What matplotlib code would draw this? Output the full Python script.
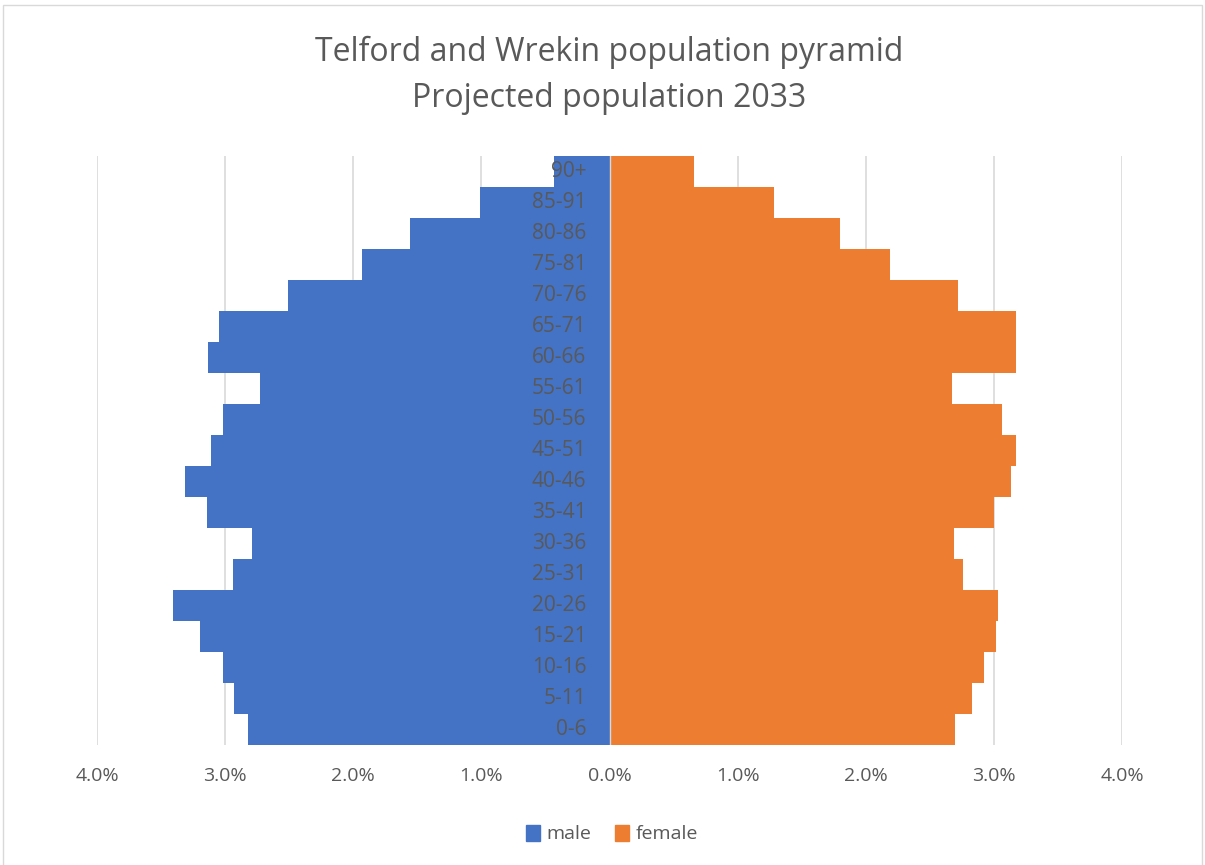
import matplotlib.pyplot as plt
from matplotlib.patches import Patch, Rectangle
from matplotlib.ticker import FuncFormatter
import matplotlib.transforms as mtransforms

plt.rcParams['font.family'] = ['Open Sans', 'DejaVu Sans']

# age bands, bottom to top
ages = ['0-6', '5-11', '10-16', '15-21', '20-26', '25-31', '30-36', '35-41', '40-46',
        '45-51', '50-56', '55-61', '60-66', '65-71', '70-76', '75-81', '80-86', '85-91', '90+']

# share of population (%)
male = [2.82, 2.93, 3.02, 3.20, 3.41, 2.94, 2.79, 3.14, 3.31,
        3.11, 3.02, 2.73, 3.13, 3.05, 2.51, 1.93, 1.56, 1.01, 0.43]
female = [2.70, 2.83, 2.92, 3.02, 3.03, 2.76, 2.69, 3.00, 3.13,
          3.17, 3.06, 2.67, 3.17, 3.17, 2.72, 2.19, 1.80, 1.28, 0.66]

blue = '#4472C4'
orange = '#ED7D31'
txt = '#595959'
grid = '#D9D9D9'

fig = plt.figure(figsize=(12.05, 8.65), dpi=100)
ax = fig.add_axes([97 / 1205, 120 / 865, 1025 / 1205, 589.3 / 865])

pos = list(range(len(ages)))
ax.barh(pos, [-v for v in male], height=1.0, color=blue, linewidth=0, zorder=2)
ax.barh(pos, female, height=1.0, color=orange, linewidth=0, zorder=2)

ax.set_xlim(-4, 4)
ax.set_ylim(-0.5, len(ages) - 0.5)
ax.set_xticks(range(-4, 5))
ax.xaxis.set_major_formatter(FuncFormatter(lambda v, p: f'{abs(v):.1f}%'))
ax.grid(axis='x', color=grid, linewidth=1.2, zorder=0)
ax.axvline(0, color=grid, linewidth=1, zorder=3)
ax.set_axisbelow(True)
ax.set_yticks([])
for s in ['top', 'right', 'bottom', 'left']:
    ax.spines[s].set_visible(False)
ax.tick_params(axis='x', length=0, pad=16, labelsize=14, labelcolor=txt)

# category labels sit just left of the zero line, over the bars
off = mtransforms.offset_copy(ax.transData, fig=fig, x=-23, y=0, units='dots')
for p, lab in zip(pos, ages):
    ax.text(0, p, lab, transform=off, ha='right', va='center', fontsize=15, color=txt, zorder=5)

fig.text(609 / 1205, 1 - 61 / 865, 'Telford and Wrekin population pyramid',
         ha='center', va='baseline', fontsize=23, color=txt)
fig.text(609 / 1205, 1 - 107 / 865, 'Projected population 2033',
         ha='center', va='baseline', fontsize=23, color=txt)

handles = [Patch(color=blue, label='male'), Patch(color=orange, label='female')]
fig.legend(handles=handles, loc='center', bbox_to_anchor=(612 / 1205, 1 - 834 / 865), ncol=2,
           frameon=False, fontsize=14, handlelength=0.7, handleheight=0.9,
           handletextpad=0.35, columnspacing=1.2, labelcolor=txt)

# chart area border
fig.add_artist(Rectangle((3 / 1205, -0.01), 1199 / 1205, 1 - 5 / 865 + 0.01, transform=fig.transFigure,
                         fill=False, edgecolor=grid, linewidth=1))

fig.savefig('out.png', dpi=100)
